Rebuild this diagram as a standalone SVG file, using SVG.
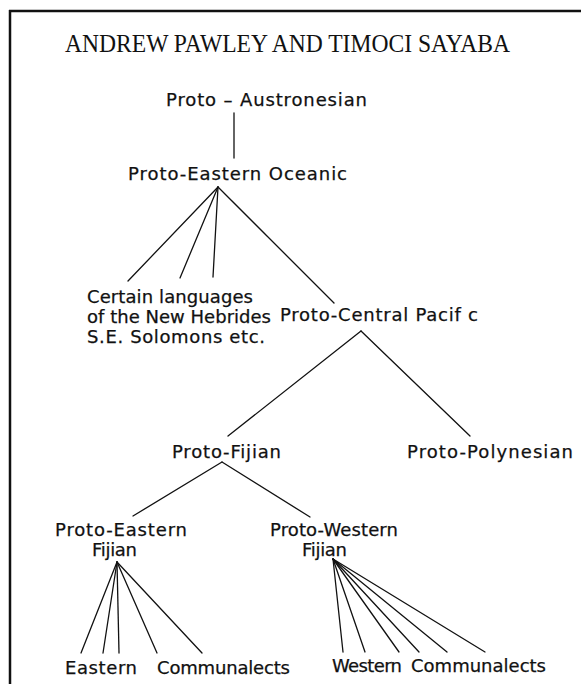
<svg xmlns="http://www.w3.org/2000/svg" width="581" height="684" viewBox="0 0 581 684">
<style>
.lbl{font-family:"DejaVu Sans","Liberation Sans",sans-serif;font-size:18px;fill:#111;stroke:#111;stroke-width:0.25;}
.ttl{font-family:"Liberation Serif","Times New Roman",serif;font-size:26px;fill:#111;}
.edge{stroke:#111;stroke-width:1.3;fill:none;stroke-linecap:round;}
.frame{stroke:#111;stroke-width:2.5;fill:none;}
</style>
<rect width="581" height="684" fill="#fff"/>
<g id="frame">
<line class="frame" x1="9" y1="11" x2="581" y2="11"/>
<line class="frame" x1="10" y1="10" x2="10" y2="684"/>
</g>
<text class="ttl" x="65" y="52" textLength="445" lengthAdjust="spacingAndGlyphs">ANDREW PAWLEY AND TIMOCI SAYABA</text>
<g id="connectors">
<line class="edge" x1="234" y1="113" x2="234" y2="158"/>
<line class="edge" x1="218" y1="187" x2="128" y2="281"/>
<line class="edge" x1="218" y1="187" x2="180" y2="278"/>
<line class="edge" x1="218" y1="187" x2="213" y2="277"/>
<line class="edge" x1="218" y1="187" x2="334" y2="303"/>
<line class="edge" x1="361" y1="331" x2="228" y2="436"/>
<line class="edge" x1="361" y1="331" x2="470" y2="436"/>
<line class="edge" x1="222" y1="462" x2="133" y2="516"/>
<line class="edge" x1="222" y1="462" x2="310" y2="517"/>
<line class="edge" x1="117" y1="562" x2="81" y2="653"/>
<line class="edge" x1="117" y1="562" x2="103" y2="653"/>
<line class="edge" x1="117" y1="562" x2="119" y2="653"/>
<line class="edge" x1="117" y1="562" x2="157" y2="653"/>
<line class="edge" x1="117" y1="562" x2="202" y2="653"/>
<line class="edge" x1="333" y1="559" x2="343" y2="652"/>
<line class="edge" x1="333" y1="559" x2="365" y2="652"/>
<line class="edge" x1="333" y1="559" x2="399" y2="652"/>
<line class="edge" x1="333" y1="559" x2="419" y2="652"/>
<line class="edge" x1="333" y1="559" x2="447" y2="652"/>
<line class="edge" x1="333" y1="559" x2="485" y2="652"/>
</g>
<g id="proto-austronesian"><text class="lbl" x="166" y="106" textLength="201" lengthAdjust="spacing">Proto – Austronesian</text></g>
<g id="proto-eastern-oceanic"><text class="lbl" x="128" y="180" textLength="219" lengthAdjust="spacing">Proto-Eastern Oceanic</text></g>
<g id="certain-languages">
<text class="lbl" x="87" y="303" textLength="166" lengthAdjust="spacing">Certain languages</text>
<text class="lbl" x="87" y="323" textLength="184" lengthAdjust="spacing">of the New Hebrides</text>
<text class="lbl" x="87" y="343" textLength="178" lengthAdjust="spacing">S.E. Solomons etc.</text>
</g>
<g id="proto-central-pacific"><text class="lbl" x="280" y="321" textLength="198" lengthAdjust="spacing">Proto-Central Pacif c</text></g>
<g id="proto-fijian"><text class="lbl" x="172" y="458" textLength="109" lengthAdjust="spacing">Proto-Fijian</text></g>
<g id="proto-polynesian"><text class="lbl" x="407" y="458" textLength="166" lengthAdjust="spacing">Proto-Polynesian</text></g>
<g id="proto-eastern-fijian">
<text class="lbl" x="55" y="536" textLength="132" lengthAdjust="spacing">Proto-Eastern</text>
<text class="lbl" x="92" y="556" textLength="45" lengthAdjust="spacing">Fijian</text>
</g>
<g id="proto-western-fijian">
<text class="lbl" x="270" y="536" textLength="128" lengthAdjust="spacing">Proto-Western</text>
<text class="lbl" x="302" y="556" textLength="45" lengthAdjust="spacing">Fijian</text>
</g>
<g id="eastern-communalects">
<text class="lbl" x="65" y="674" textLength="72" lengthAdjust="spacing">Eastern</text>
<text class="lbl" x="157" y="674" textLength="133" lengthAdjust="spacing">Communalects</text>
</g>
<g id="western-communalects">
<text class="lbl" x="332" y="672" textLength="70" lengthAdjust="spacing">Western</text>
<text class="lbl" x="411" y="672" textLength="135" lengthAdjust="spacing">Communalects</text>
</g>
</svg>
